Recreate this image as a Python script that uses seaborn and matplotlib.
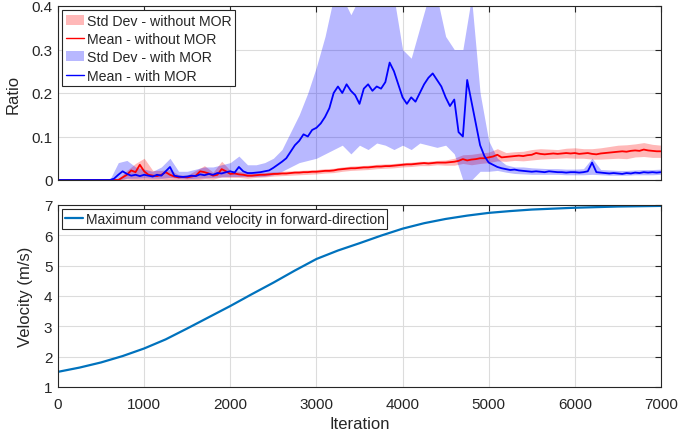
import numpy as np
import pandas as pd
import matplotlib
matplotlib.use("Agg")
import matplotlib.pyplot as plt
import seaborn as sns
from matplotlib.patches import Patch
from matplotlib.lines import Line2D

# ---------------- data ----------------
# mean curves, every 50 iterations (0..7000)
iter_mean = list(range(0, 7001, 50))
red_mean = [0.0]*15 + [
    0.006, 0.012, 0.022, 0.018, 0.035, 0.020, 0.012, 0.010, 0.009, 0.012,
    0.018, 0.012, 0.008, 0.006, 0.007, 0.006, 0.008, 0.010, 0.020, 0.018,
    0.015, 0.010, 0.012, 0.025, 0.020, 0.014, 0.015, 0.013, 0.012, 0.010,
    0.010, 0.011, 0.012, 0.012, 0.013, 0.014, 0.014, 0.015, 0.015, 0.016,
    0.017, 0.017, 0.018, 0.018, 0.019, 0.019, 0.020, 0.021, 0.021, 0.022,
    0.024, 0.025, 0.026, 0.027, 0.027, 0.028, 0.029, 0.029, 0.030, 0.031,
    0.031, 0.032, 0.032, 0.033, 0.034, 0.035, 0.036, 0.036, 0.037, 0.038,
    0.039, 0.038, 0.039, 0.040, 0.040, 0.040, 0.041, 0.042, 0.044, 0.048,
    0.045, 0.047, 0.048, 0.050, 0.050, 0.052, 0.054, 0.058, 0.052, 0.053,
    0.054, 0.055, 0.056, 0.055, 0.057, 0.058, 0.062, 0.060, 0.059, 0.060,
    0.061, 0.060, 0.061, 0.062, 0.061, 0.062, 0.060, 0.061, 0.062, 0.060,
    0.059, 0.061, 0.062, 0.063, 0.064, 0.065, 0.066, 0.065, 0.067, 0.068,
    0.067, 0.070, 0.068, 0.067, 0.066, 0.066]
blue_mean = [0.0]*13 + [
    0.003, 0.012, 0.020, 0.014, 0.010, 0.012, 0.009, 0.012, 0.010, 0.008,
    0.012, 0.010, 0.020, 0.030, 0.010, 0.008, 0.007, 0.008, 0.010, 0.009,
    0.013, 0.011, 0.014, 0.012, 0.016, 0.015, 0.018, 0.020, 0.017, 0.030,
    0.020, 0.016, 0.016, 0.017, 0.018, 0.020, 0.022, 0.028, 0.035, 0.042,
    0.050, 0.065, 0.080, 0.090, 0.105, 0.100, 0.115, 0.120, 0.130, 0.145,
    0.165, 0.200, 0.215, 0.200, 0.220, 0.205, 0.195, 0.175, 0.210, 0.220,
    0.205, 0.215, 0.210, 0.225, 0.270, 0.250, 0.220, 0.190, 0.175, 0.190,
    0.180, 0.200, 0.220, 0.235, 0.245, 0.230, 0.215, 0.190, 0.170, 0.185,
    0.110, 0.100, 0.230, 0.180, 0.130, 0.080, 0.055, 0.040, 0.035, 0.030,
    0.027, 0.025, 0.023, 0.024, 0.022, 0.021, 0.020, 0.019, 0.020, 0.019,
    0.018, 0.020, 0.019, 0.018, 0.018, 0.017, 0.018, 0.018, 0.017, 0.018,
    0.020, 0.040, 0.018, 0.017, 0.016, 0.015, 0.016, 0.015, 0.014, 0.016,
    0.015, 0.017, 0.016, 0.018, 0.017, 0.018, 0.017, 0.018]

# standard-deviation bands, every 100 iterations (0..7000)
iter_band = list(range(0, 7001, 100))
red_std = [0.0]*7 + [
    0.003, 0.010, 0.020, 0.030, 0.012, 0.010, 0.012, 0.006, 0.005, 0.012,
    0.015, 0.008, 0.018, 0.008, 0.007, 0.006, 0.005, 0.005, 0.005, 0.005,
    0.005, 0.005, 0.005, 0.005, 0.005, 0.005, 0.005, 0.005, 0.005, 0.005,
    0.005, 0.005, 0.005, 0.005, 0.005, 0.005, 0.005, 0.005, 0.006, 0.008,
    0.010, 0.012, 0.012, 0.012, 0.014, 0.010, 0.010, 0.011, 0.012, 0.012,
    0.011, 0.010, 0.011, 0.012, 0.011, 0.012, 0.013, 0.014, 0.015, 0.016,
    0.015, 0.016, 0.015, 0.014]
blue_band_hi = [0.0]*7 + [
    0.040, 0.045, 0.030, 0.025, 0.020, 0.030, 0.050, 0.020, 0.020, 0.025,
    0.030, 0.030, 0.035, 0.040, 0.055, 0.035, 0.035, 0.040, 0.050, 0.070,
    0.110, 0.150, 0.200, 0.260, 0.330, 0.420, 0.420, 0.380, 0.420, 0.420,
    0.420, 0.420, 0.420, 0.300, 0.280, 0.350, 0.420, 0.420, 0.330, 0.300,
    0.300, 0.420, 0.200, 0.090, 0.050, 0.035, 0.030, 0.030, 0.028, 0.027,
    0.026, 0.026, 0.025, 0.025, 0.026, 0.050, 0.024, 0.023, 0.022, 0.022,
    0.023, 0.024, 0.024, 0.025]
blue_band_lo = [0.0]*7 + [
    0.000, 0.004, 0.004, 0.005, 0.004, 0.004, 0.006, 0.004, 0.003, 0.004,
    0.005, 0.006, 0.007, 0.008, 0.008, 0.008, 0.008, 0.009, 0.012, 0.020,
    0.030, 0.040, 0.045, 0.050, 0.060, 0.070, 0.080, 0.060, 0.080, 0.070,
    0.085, 0.080, 0.070, 0.080, 0.070, 0.085, 0.080, 0.075, 0.080, 0.060,
    0.000, 0.000, 0.020, 0.020, 0.022, 0.018, 0.015, 0.014, 0.013, 0.013,
    0.013, 0.013, 0.012, 0.012, 0.012, 0.013, 0.012, 0.011, 0.011, 0.011,
    0.012, 0.012, 0.012, 0.013]

# maximum command velocity, every 250 iterations
iter_vel = list(range(0, 7001, 250))
velocity = [1.50, 1.64, 1.81, 2.02, 2.27, 2.57, 2.93, 3.30, 3.67, 4.06,
            4.44, 4.84, 5.22, 5.50, 5.74, 5.99, 6.22, 6.40, 6.54, 6.65,
            6.74, 6.80, 6.85, 6.88, 6.91, 6.93, 6.95, 6.96, 6.97]

# ---------------- style ----------------
sns.set_theme(style="white")
plt.rcParams['font.family'] = ['Liberation Sans', 'DejaVu Sans']
plt.rcParams['axes.edgecolor'] = '#262626'
plt.rcParams['axes.linewidth'] = 0.8

fig = plt.figure(figsize=(6.97, 4.39), dpi=100)
ax1 = fig.add_axes([58/697, 1-181/439, 603/697, 174/439])
ax2 = fig.add_axes([58/697, 1-388/439, 603/697, 182/439])

RED_BAND = (1.0, 0.0, 0.0, 0.28)
BLUE_BAND = (0.0, 0.0, 1.0, 0.28)

df_mean = pd.DataFrame({"it": iter_mean, "red": red_mean, "blue": blue_mean})
rm_b = np.array(red_mean)[::2]
rs = np.array(red_std)
ax1.fill_between(iter_band, np.clip(rm_b - rs, 0, None), rm_b + rs,
                 color=RED_BAND, linewidth=0)
sns.lineplot(data=df_mean, x="it", y="red", ax=ax1, color='#FF0000', linewidth=1.3)
ax1.fill_between(iter_band, blue_band_lo, blue_band_hi, color=BLUE_BAND, linewidth=0)
sns.lineplot(data=df_mean, x="it", y="blue", ax=ax1, color='#0000FF', linewidth=1.3)

df_vel = pd.DataFrame({"it": iter_vel, "v": velocity})
sns.lineplot(data=df_vel, x="it", y="v", ax=ax2, color='#0072BD', linewidth=1.6,
             label='Maximum command velocity in forward-direction')

for ax in (ax1, ax2):
    ax.set_xlim(0, 7000)
    ax.set_xticks(range(0, 7001, 1000))
    ax.grid(True, color='#DCDCDC', linewidth=0.8)
    ax.tick_params(direction='in', length=4, width=0.8, top=True, right=True,
                   labelsize=11, colors='#262626')
    ax.tick_params(axis='x', pad=7)
    ax.tick_params(axis='y', pad=4)
    for s in ax.spines.values():
        s.set_visible(True)
        s.set_color('#262626')

ax1.set_ylim(0, 0.4)
ax1.set_yticks([0, 0.1, 0.2, 0.3, 0.4])
ax1.set_yticklabels(['0', '0.1', '0.2', '0.3', '0.4'])
ax1.set_xticklabels([])
ax1.set_xlabel('')
ax1.set_ylabel('Ratio', fontsize=12, color='#262626', labelpad=8)

ax2.set_ylim(1, 7)
ax2.set_yticks(range(1, 8))
ax2.set_xlabel('Iteration', fontsize=12, color='#262626', labelpad=4)
ax2.set_ylabel('Velocity (m/s)', fontsize=12, color='#262626', labelpad=8)

handles = [Patch(facecolor=RED_BAND, edgecolor='none'),
           Line2D([], [], color='#FF0000', linewidth=1.0),
           Patch(facecolor=BLUE_BAND, edgecolor='none'),
           Line2D([], [], color='#0000FF', linewidth=1.0)]
labels = ['Std Dev - without MOR', 'Mean - without MOR',
          'Std Dev - with MOR', 'Mean - with MOR']
leg1 = ax1.legend(handles, labels, loc='upper left', fontsize=10.2, frameon=True,
                  fancybox=False, edgecolor='#262626', framealpha=1,
                  borderpad=0.25, labelspacing=0.3, handlelength=1.3,
                  handletextpad=0.2, borderaxespad=0.3)
leg1.get_frame().set_linewidth(0.8)

leg2 = ax2.legend(loc='upper left', fontsize=10, frameon=True, fancybox=False,
                  edgecolor='#262626', framealpha=1, borderpad=0.2,
                  handlelength=1.3, handletextpad=0.2, borderaxespad=0.3)
leg2.get_frame().set_linewidth(0.8)

fig.savefig('out.png', dpi=100, facecolor='white')
